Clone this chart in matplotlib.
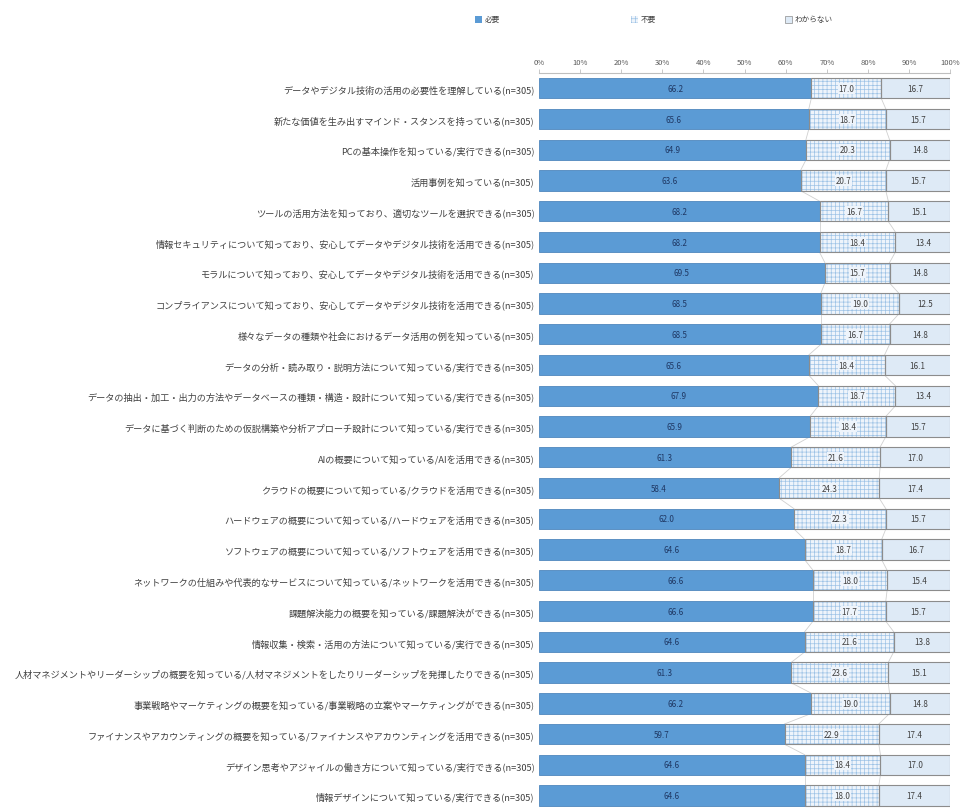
import matplotlib
matplotlib.use("Agg")
import matplotlib.pyplot as plt
from matplotlib.patches import Rectangle
import numpy as np

plt.rcParams['font.family'] = ['Noto Sans CJK JP', 'DejaVu Sans']
plt.rcParams['hatch.linewidth'] = 0.5

categories = [
    "データやデジタル技術の活用の必要性を理解している(n=305)",
    "新たな価値を生み出すマインド・スタンスを持っている(n=305)",
    "PCの基本操作を知っている/実行できる(n=305)",
    "活用事例を知っている(n=305)",
    "ツールの活用方法を知っており、適切なツールを選択できる(n=305)",
    "情報セキュリティについて知っており、安心してデータやデジタル技術を活用できる(n=305)",
    "モラルについて知っており、安心してデータやデジタル技術を活用できる(n=305)",
    "コンプライアンスについて知っており、安心してデータやデジタル技術を活用できる(n=305)",
    "様々なデータの種類や社会におけるデータ活用の例を知っている(n=305)",
    "データの分析・読み取り・説明方法について知っている/実行できる(n=305)",
    "データの抽出・加工・出力の方法やデータベースの種類・構造・設計について知っている/実行できる(n=305)",
    "データに基づく判断のための仮説構築や分析アプローチ設計について知っている/実行できる(n=305)",
    "AIの概要について知っている/AIを活用できる(n=305)",
    "クラウドの概要について知っている/クラウドを活用できる(n=305)",
    "ハードウェアの概要について知っている/ハードウェアを活用できる(n=305)",
    "ソフトウェアの概要について知っている/ソフトウェアを活用できる(n=305)",
    "ネットワークの仕組みや代表的なサービスについて知っている/ネットワークを活用できる(n=305)",
    "課題解決能力の概要を知っている/課題解決ができる(n=305)",
    "情報収集・検索・活用の方法について知っている/実行できる(n=305)",
    "人材マネジメントやリーダーシップの概要を知っている/人材マネジメントをしたりリーダーシップを発揮したりできる(n=305)",
    "事業戦略やマーケティングの概要を知っている/事業戦略の立案やマーケティングができる(n=305)",
    "ファイナンスやアカウンティングの概要を知っている/ファイナンスやアカウンティングを活用できる(n=305)",
    "デザイン思考やアジャイルの働き方について知っている/実行できる(n=305)",
    "情報デザインについて知っている/実行できる(n=305)",
]

needed = [66.2, 65.6, 64.9, 63.6, 68.2, 68.2, 69.5, 68.5, 68.5, 65.6, 67.9, 65.9,
          61.3, 58.4, 62.0, 64.6, 66.6, 66.6, 64.6, 61.3, 66.2, 59.7, 64.6, 64.6]
not_needed = [17.0, 18.7, 20.3, 20.7, 16.7, 18.4, 15.7, 19.0, 16.7, 18.4, 18.7, 18.4,
              21.6, 24.3, 22.3, 18.7, 18.0, 17.7, 21.6, 23.6, 19.0, 22.9, 18.4, 18.0]
unknown = [16.7, 15.7, 14.8, 15.7, 15.1, 13.4, 14.8, 12.5, 14.8, 16.1, 13.4, 15.7,
           17.0, 17.4, 15.7, 16.7, 15.4, 15.7, 13.8, 15.1, 14.8, 17.4, 17.0, 17.4]

series_names = ["必要", "不要", "わからない"]
tick_labels = ["0%", "10%", "20%", "30%", "40%", "50%", "60%", "70%", "80%", "90%", "100%"]

c_need = "#5B9BD5"
c_not_face = "#EEF4FB"
c_not_hatch = "#9DC3E6"
c_unk = "#DEEAF6"
c_edge = "#8C8C8C"

fig = plt.figure(figsize=(9.62, 8.12), dpi=100)
ax = fig.add_axes([0.560, 0.0, 0.428, 0.909])

y = np.arange(len(categories))
h = 0.66
a = np.array(needed)
b = np.array(not_needed)
c = np.array(unknown)

ax.barh(y, a, height=h, color=c_need, edgecolor="#4F87BD", linewidth=0.6, zorder=3)
ax.barh(y, b, left=a, height=h, color=c_not_face, edgecolor=c_not_hatch,
        hatch="++++", linewidth=0, zorder=3)
ax.barh(y, b, left=a, height=h, fill=False, edgecolor=c_edge, linewidth=0.8, zorder=4)
ax.barh(y, c, left=a + b, height=h, color=c_unk, edgecolor=c_edge, linewidth=0.8, zorder=3)

# series lines between consecutive bars
b1 = a
b2 = a + b
for i in range(len(categories) - 1):
    for bd in (b1, b2):
        ax.plot([bd[i], bd[i + 1]], [y[i] + h / 2, y[i + 1] - h / 2],
                color="#D0D0D0", linewidth=0.6, zorder=2)

for i in range(len(categories)):
    ax.text(a[i] / 2, y[i], f"{a[i]:.1f}", ha="center", va="center",
            fontsize=5.8, color="#1F3864", zorder=5)
    ax.text(a[i] + b[i] / 2, y[i], f"{b[i]:.1f}", ha="center", va="center",
            fontsize=5.8, color="#404040", zorder=5,
            bbox=dict(boxstyle="square,pad=0.1", facecolor=c_not_face, edgecolor="none"))
    ax.text(a[i] + b[i] + c[i] / 2, y[i], f"{c[i]:.1f}", ha="center", va="center",
            fontsize=5.8, color="#404040", zorder=5)

ax.set_xlim(0, 100)
ax.set_ylim(len(categories) - 0.5, -0.5)
ax.xaxis.tick_top()
ax.set_xticks(np.arange(0, 101, 10))
ax.set_xticklabels(tick_labels, fontsize=5.5, color="#595959")
ax.tick_params(axis="x", length=3, width=0.6, color="#BFBFBF", pad=2)
ax.set_yticks(y)
ax.set_yticklabels(categories, fontsize=6.6, color="#404040")
ax.tick_params(axis="y", length=0, pad=3)
for s in ("right", "bottom", "left"):
    ax.spines[s].set_visible(False)
ax.spines["top"].set_color("#BFBFBF")
ax.spines["top"].set_linewidth(0.8)

# legend across the top
leg_x = [0.506, 0.668, 0.828]
leg_fills = [dict(facecolor=c_need, edgecolor="none"),
             dict(facecolor=c_not_face, edgecolor=c_not_hatch, hatch="++++", linewidth=0),
             dict(facecolor=c_unk, edgecolor=c_edge, linewidth=0.5)]
for x0, name, style in zip(leg_x, series_names, leg_fills):
    fig.patches.append(Rectangle((x0 - 0.012, 0.971), 0.007, 0.008,
                                 transform=fig.transFigure, figure=fig, **style))
    fig.text(x0 - 0.002, 0.975, name, fontsize=5.5, color="#404040",
             ha="left", va="center")

fig.savefig("out.png", dpi=100, facecolor="white")
